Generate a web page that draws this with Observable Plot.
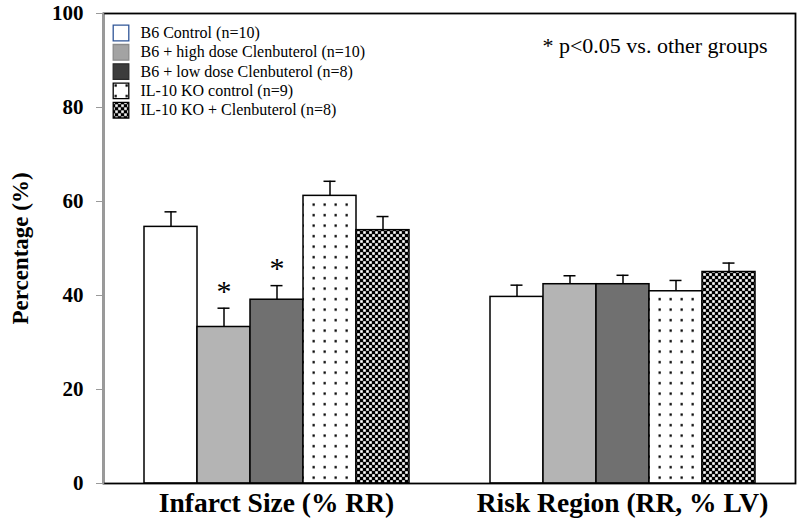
<!DOCTYPE html>
<html>
<head>
<meta charset="utf-8">
<script src="https://cdn.jsdelivr.net/npm/d3@7"></script>
<script src="https://cdn.jsdelivr.net/npm/@observablehq/plot@0.6"></script>
<style>
  html, body { margin: 0; padding: 0; background: #fff; }
</style>
</head>
<body>
<div id="chart"></div>
<script>
// ---- data ----
const groups = ["Infarct Size (% RR)", "Risk Region (RR, % LV)"];
const series = [
  "B6 Control (n=10)",
  "B6 + high dose Clenbuterol (n=10)",
  "B6 + low dose Clenbuterol (n=8)",
  "IL-10 KO control (n=9)",
  "IL-10 KO + Clenbuterol (n=8)"
];
const infarctMean = [54.6, 33.3, 39.1, 61.2, 53.9];
const infarctSE   = [3.2, 4.0, 3.0, 3.1, 2.9];
const riskMean    = [39.7, 42.4, 42.4, 40.9, 45.0];
const riskSE      = [2.5, 1.8, 1.9, 2.3, 1.9];
const infarctSignificant = [false, true, true, false, false];
const riskSignificant    = [false, false, false, false, false];
const yTicks = [0, 20, 40, 60, 80, 100];
const yLabel = "Percentage (%)";
const note = "* p<0.05 vs. other groups";

// ---- styles ----
const barFill = ["#ffffff", "#b4b4b4", "#707070", "url(#pat-dots)", "url(#pat-check)"];
const legendFill = ["#ffffff", "#a3a3a3", "#3c3c3c", "url(#pat-dots)", "url(#pat-check)"];
const legendStroke = ["#2f5597", "#8a8a8a", "#2a2a2a", "#000000", "#000000"];
const font = "'Liberation Serif', 'Times New Roman', Times, serif";

// ---- table ----
const rows = [];
groups.forEach((g, gi) => {
  const m = gi === 0 ? infarctMean : riskMean;
  const e = gi === 0 ? infarctSE : riskSE;
  const s = gi === 0 ? infarctSignificant : riskSignificant;
  series.forEach((name, i) => {
    rows.push({group: g, series: name, idx: i, mean: m[i], top: m[i] + e[i], sig: s[i]});
  });
});

const legendMarks = [];
series.forEach((name, i) => {
  legendMarks.push(
    Plot.dot([name], {
      facet: "super", frameAnchor: "top-left", dx: 17.5, dy: 19.5 + 19.3 * i,
      symbol: "square", r: 8.8, fill: () => legendFill[i], stroke: legendStroke[i], strokeWidth: 1.3
    }),
    Plot.text([name], {
      facet: "super", frameAnchor: "top-left", dx: 37, dy: 19.5 + 19.3 * i,
      text: d => d, textAnchor: "start", lineAnchor: "middle", fontSize: 16, fill: "black"
    })
  );
});

const chart = Plot.plot({
  width: 800,
  height: 525,
  marginLeft: 103,
  marginRight: 5,
  marginTop: 13,
  marginBottom: 42,
  style: {fontFamily: font, background: "white", color: "black", overflow: "visible"},
  fx: {domain: groups, padding: 0},
  x: {domain: series, paddingInner: 0, paddingOuter: 0.74, axis: null},
  y: {domain: [0, 100]},
  color: {type: "identity"},
  marks: [
    Plot.barY(rows, {
      fx: "group", x: "series", y: "mean",
      fill: d => barFill[d.idx], stroke: "black", strokeWidth: 1.5
    }),
    Plot.ruleX(rows, {fx: "group", x: "series", y1: "mean", y2: "top", stroke: "black", strokeWidth: 1.5}),
    Plot.tickY(rows, {fx: "group", x: "series", y: "top", insetLeft: 20.5, insetRight: 20.5, stroke: "black", strokeWidth: 1.5}),
    Plot.text(rows.filter(d => d.sig), {
      fx: "group", x: "series", y: "top", text: () => "*",
      fontSize: 30, dy: -17, lineAnchor: "middle", fill: "black"
    }),
    Plot.frame({facet: "super", stroke: "black", strokeWidth: 1.8}),
    Plot.frame({facet: "super", anchor: "left", stroke: "#9a9a9a", strokeWidth: 1.5}),
    Plot.axisY({
      ticks: yTicks, tickSize: 7, tickPadding: 13, stroke: "#9a9a9a", fill: "black",
      fontSize: 21, fontWeight: "bold", label: null
    }),
    Plot.text([yLabel], {
      facet: "super", frameAnchor: "left", dx: -83, rotate: -90,
      text: d => d, textAnchor: "middle", lineAnchor: "middle",
      fontSize: 23, fontWeight: "bold", fill: "black"
    }),
    Plot.axisFx({
      anchor: "bottom", tickSize: 0, tickPadding: 9, fontSize: 27.5, fontWeight: "bold",
      label: null, fill: "black"
    }),
    ...legendMarks,
    Plot.text([note], {
      facet: "super", frameAnchor: "top-right", dx: -28, dy: 32,
      text: d => d, textAnchor: "end", lineAnchor: "middle", fontSize: 22, fill: "black"
    })
  ]
});

// ---- patterns ----
const defs = d3.select(chart).insert("defs", ":first-child");
const dots = defs.append("pattern").attr("id", "pat-dots")
  .attr("patternUnits", "userSpaceOnUse").attr("width", 11).attr("height", 10.5);
dots.append("rect").attr("width", 11).attr("height", 10.5).attr("fill", "white");
dots.append("rect").attr("x", 4.5).attr("y", 4).attr("width", 2.3).attr("height", 2.3).attr("fill", "black");

const check = defs.append("pattern").attr("id", "pat-check")
  .attr("patternUnits", "userSpaceOnUse").attr("width", 6).attr("height", 6);
check.append("rect").attr("width", 6).attr("height", 6).attr("fill", "black");
check.append("rect").attr("x", 0.2).attr("y", 0.2).attr("width", 2.6).attr("height", 2.6).attr("fill", "white");
check.append("rect").attr("x", 3.2).attr("y", 3.2).attr("width", 2.6).attr("height", 2.6).attr("fill", "white");

document.getElementById("chart").appendChild(chart);
</script>
</body>
</html>
